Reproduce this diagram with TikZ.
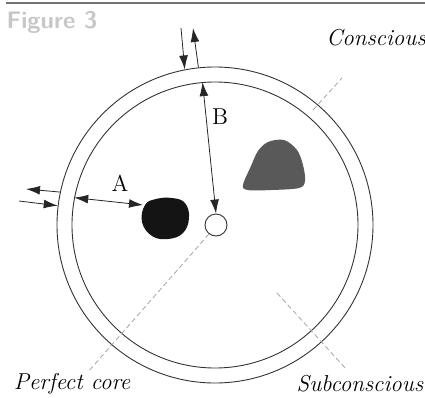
\documentclass[tikz,border=0pt]{standalone}
\usetikzlibrary{arrows.meta}
\begin{document}
\begin{tikzpicture}[x=0.5pt,y=-0.5pt,
    ring/.style={circle, draw=black!80, line width=0.45pt, inner sep=0pt},
    oneway/.style={-{Latex[length=7pt,width=4.4pt]}, line width=0.4pt, black!85},
    twoway/.style={{Latex[length=7pt,width=4.4pt]}-{Latex[length=7pt,width=4.4pt]}, line width=0.4pt, black!85},
    leader/.style={draw=black!35, line width=0.4pt, dash pattern=on 2.5pt off 1.5pt},
    caption/.style={font=\fontsize{11.5}{13}\selectfont\itshape, inner sep=0pt}]
  \useasboundingbox (0,0) rectangle (425,398);
  % Header
  \draw[black!55, line width=0.9pt] (6,3) -- (425,3);
  \node (fig) at (52,22) [font=\fontsize{12}{14}\selectfont\sffamily\bfseries, text=black!22, inner sep=0pt] {Figure 3};
  % Rings and core (centre at 215,225)
  \node (outer) at (215,225) [ring, minimum size=158pt] {};
  \node (inner) at (215,225) [ring, minimum size=143pt] {};
  \node (core) at (216,225) [ring, fill=white, minimum size=11pt] {};
  % Blobs
  \fill[black!92] plot[smooth cycle, tension=0.7] coordinates {(145,205) (156,199) (172,198) (185,203) (189,218) (183,233) (168,239) (152,236) (142,222)};
  \fill[black!65] plot[smooth cycle, tension=0.55] coordinates {(243,185) (251,166) (258,151) (268,142) (284,140) (297,150) (303,165) (305,181) (299,188) (272,190) (248,190)};
  \coordinate (blobA) at (143,205);
  % Labels
  \node (A) at (120,183) [font=\fontsize{11.5}{13}\selectfont, inner sep=0pt] {A};
  \node (B) at (220,117) [font=\fontsize{11.5}{13}\selectfont, inner sep=0pt] {B};
  \node (consc) at (376,38) [caption] {Conscious};
  \node (pcore) at (72,384) [caption] {Perfect core};
  \node (subc) at (360,384) [caption] {Subconscious};
  % Free ends of arrows and leaders
  \coordinate (outL) at (26,189);
  \coordinate (inL) at (19,201);
  \coordinate (inT) at (181,28);
  \coordinate (outT) at (193,28);
  \coordinate (cRing) at (313,110);
  \coordinate (cEnd) at (342,78);
  \coordinate (pEnd) at (88,372);
  \coordinate (sStart) at (277,293);
  \coordinate (sEnd) at (347,370);
  % Arrows
  \draw[twoway] (inner.169) -- (blobA);
  \draw[twoway] (inner.95) -- (core.north);
  \draw[oneway] (outer.168) -- (outL);
  \draw[oneway] (inL) -- (outer.173);
  \draw[oneway] (inT) -- (outer.101);
  \draw[oneway] (outer.96) -- (outT);
  % Leaders
  \draw[leader] (cRing) -- (cEnd);
  \draw[leader] (core.232) -- (pEnd);
  \draw[leader] (sStart) -- (sEnd);
\end{tikzpicture}
\end{document}
